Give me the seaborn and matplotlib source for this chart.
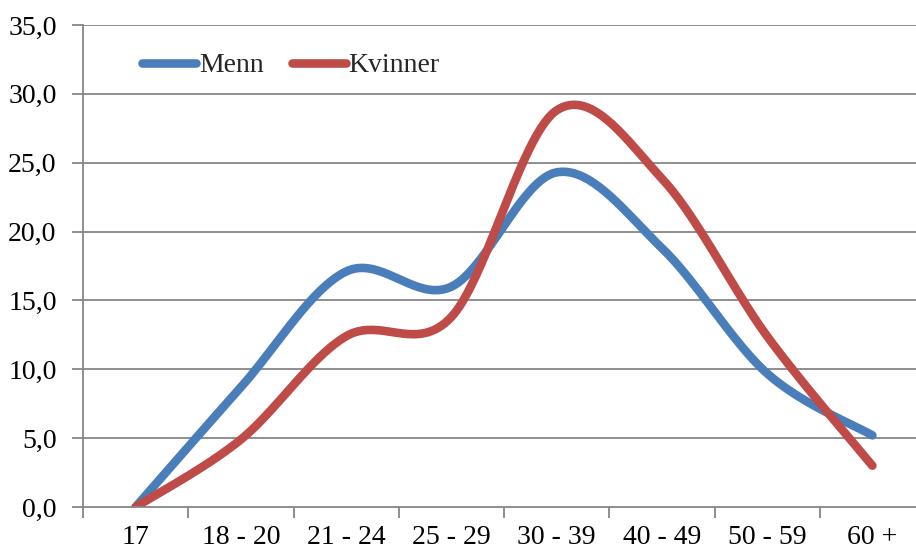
import numpy as np
import pandas as pd
import matplotlib
matplotlib.use("Agg")
import matplotlib.pyplot as plt
import seaborn as sns
from matplotlib.ticker import FuncFormatter

categories = ["17", "18 - 20", "21 - 24", "25 - 29", "30 - 39", "40 - 49", "50 - 59", "60 +"]
menn = [0.0, 8.7, 17.1, 16.0, 24.3, 18.8, 9.7, 5.2]
kvinner = [0.0, 4.9, 12.4, 13.8, 28.8, 23.85, 12.4, 3.0]
series_names = ["Menn", "Kvinner"]
colors = ["#4A7EBB", "#BE4B48"]
y_ticks = [0, 5, 10, 15, 20, 25, 30, 35]

sns.set_theme(style="white")
plt.rcParams["font.family"] = ["Liberation Serif", "DejaVu Serif"]


def smooth(xv, yv, n=40):
    # Excel-like smoothed line: cubic Bezier segments with Catmull-Rom control points
    P = np.column_stack([xv, yv]).astype(float)
    m = len(P)
    xs, ys = [], []
    for i in range(m - 1):
        p0 = P[i - 1] if i > 0 else P[i]
        p1 = P[i]
        p2 = P[i + 1]
        p3 = P[i + 2] if i + 2 < m else P[i + 1]
        c1 = p1 + (p2 - p0) / 6.0
        c2 = p2 - (p3 - p1) / 6.0
        t = np.linspace(0, 1, n)[:, None]
        b = ((1 - t) ** 3) * p1 + 3 * ((1 - t) ** 2) * t * c1 + 3 * (1 - t) * t ** 2 * c2 + t ** 3 * p2
        if i > 0:
            b = b[1:]
        xs.append(b[:, 0])
        ys.append(b[:, 1])
    return np.concatenate(xs), np.concatenate(ys)


W, H = 916, 551
fig = plt.figure(figsize=(W / 100, H / 100), dpi=100)
left, right, top, bottom = 83, 925, 25, 507
ax = fig.add_axes([left / W, (H - bottom) / H, (right - left) / W, (bottom - top) / H])

LW = 6.2
xpos = np.arange(len(categories))
for name, vals, col in zip(series_names, [menn, kvinner], colors):
    sx, sy = smooth(xpos, vals)
    df = pd.DataFrame({"x": sx, "y": sy})
    sns.lineplot(data=df, x="x", y="y", sort=False, estimator=None, ax=ax,
                 color=col, linewidth=LW, label=name, solid_capstyle="round",
                 solid_joinstyle="round")

ax.set_xlim(-0.5, len(categories) - 0.5)
ax.set_ylim(0, 35)
ax.set_yticks(y_ticks)
ax.yaxis.set_major_formatter(FuncFormatter(lambda v, p: f"{v:.1f}".replace(".", ",")))
ax.set_xticks(xpos)
ax.set_xticklabels(categories)
ax.set_xticks(np.arange(-0.5, len(categories), 1.0), minor=True)
ax.set_xlabel("")
ax.set_ylabel("")

grid_col = "#868686"
ax.grid(False)
for v in y_ticks[1:]:
    ax.axhline(v, color=grid_col, linewidth=1.3, zorder=0)
for s in ["top", "right"]:
    ax.spines[s].set_visible(False)
for s in ["left", "bottom"]:
    ax.spines[s].set_color(grid_col)
    ax.spines[s].set_linewidth(1.3)

ax.tick_params(axis="y", which="major", left=True, length=8, width=1.3, color=grid_col,
               labelsize=20, pad=11, labelcolor="black")
ax.tick_params(axis="x", which="major", bottom=False, length=0, labelsize=20, pad=13,
               labelcolor="black")
ax.tick_params(axis="x", which="minor", bottom=True, length=8, width=1.3, color=grid_col)

leg = ax.legend(loc="upper left", bbox_to_anchor=(0.057, 0.965), ncol=2, frameon=False,
                fontsize=20, handlelength=1.95, handletextpad=0.1, columnspacing=1.0,
                borderaxespad=0)
for h in leg.get_lines():
    h.set_linewidth(LW)
    h.set_solid_capstyle("round")

fig.savefig("out.png", dpi=100, facecolor="white")
